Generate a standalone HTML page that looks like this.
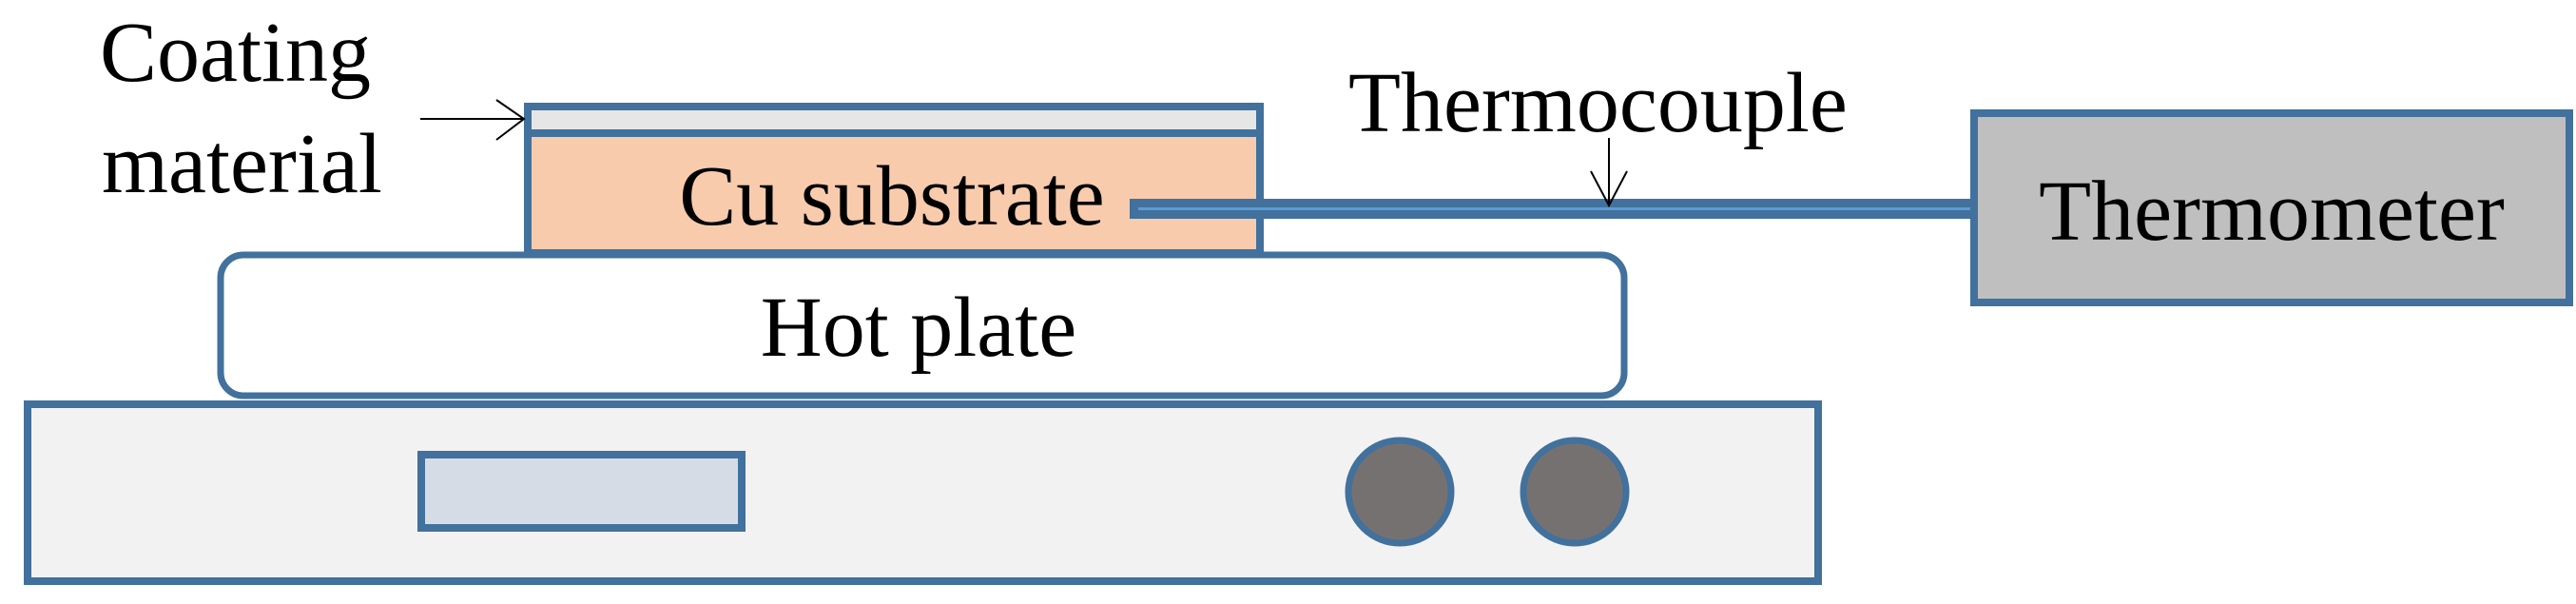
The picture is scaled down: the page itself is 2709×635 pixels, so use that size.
<!DOCTYPE html>
<html><head><meta charset="utf-8"><style>
html,body{margin:0;padding:0;background:#fff;font-family:"Liberation Serif","DejaVu Serif",serif;}
svg{display:block;}
svg text{font-family:"Liberation Serif","DejaVu Serif",serif;fill:#000;}
</style></head><body>
<svg width="2709" height="635" viewBox="0 0 2709 635" xmlns="http://www.w3.org/2000/svg" font-family="Liberation Serif, DejaVu Serif, serif">
<rect x="29" y="425" width="1883" height="186" fill="#f2f2f2" stroke="#41719c" stroke-width="8"/>
<rect x="443" y="478" width="337" height="77" fill="#d6dce5" stroke="#41719c" stroke-width="8"/>
<circle cx="1472" cy="517" r="54" fill="#767171" stroke="#41719c" stroke-width="7"/>
<circle cx="1656" cy="517" r="54" fill="#767171" stroke="#41719c" stroke-width="7"/>
<rect x="232" y="268" width="1476" height="148" rx="24" ry="24" fill="#fff" stroke="#41719c" stroke-width="7"/>
<text x="966" y="374" font-size="90" text-anchor="middle" font-family="Liberation Serif, DejaVu Serif, serif">Hot plate</text>
<rect x="555" y="138" width="770" height="128" fill="#f8cbad" stroke="#41719c" stroke-width="8"/>
<rect x="555" y="112" width="770" height="28" fill="#e6e6e6" stroke="#41719c" stroke-width="8"/>
<text x="938" y="236" font-size="90" text-anchor="middle" font-family="Liberation Serif, DejaVu Serif, serif">Cu substrate</text>
<rect x="1188" y="209" width="886" height="21" fill="#41719c"/>
<rect x="1197" y="218" width="877" height="3" fill="#5b9bd5"/>
<rect x="2076" y="119" width="626" height="199" fill="#bfbfbf" stroke="#41719c" stroke-width="8"/>
<text x="2389" y="252" font-size="90" text-anchor="middle" font-family="Liberation Serif, DejaVu Serif, serif">Thermometer</text>
<text x="105" y="85" font-size="90" font-family="Liberation Serif, DejaVu Serif, serif">Coating</text>
<text x="107" y="202" font-size="90" font-family="Liberation Serif, DejaVu Serif, serif">material</text>
<line x1="442" y1="125" x2="551" y2="125" stroke="#000" stroke-width="2"/>
<polyline points="522,105 551,125 522,147" fill="none" stroke="#000" stroke-width="2"/>
<text x="1418" y="138" font-size="90" font-family="Liberation Serif, DejaVu Serif, serif">Thermocouple</text>
<line x1="1692" y1="145" x2="1692" y2="216" stroke="#000" stroke-width="2"/>
<polyline points="1673,180 1692,216 1711,180" fill="none" stroke="#000" stroke-width="2"/>
</svg>
</body></html>
